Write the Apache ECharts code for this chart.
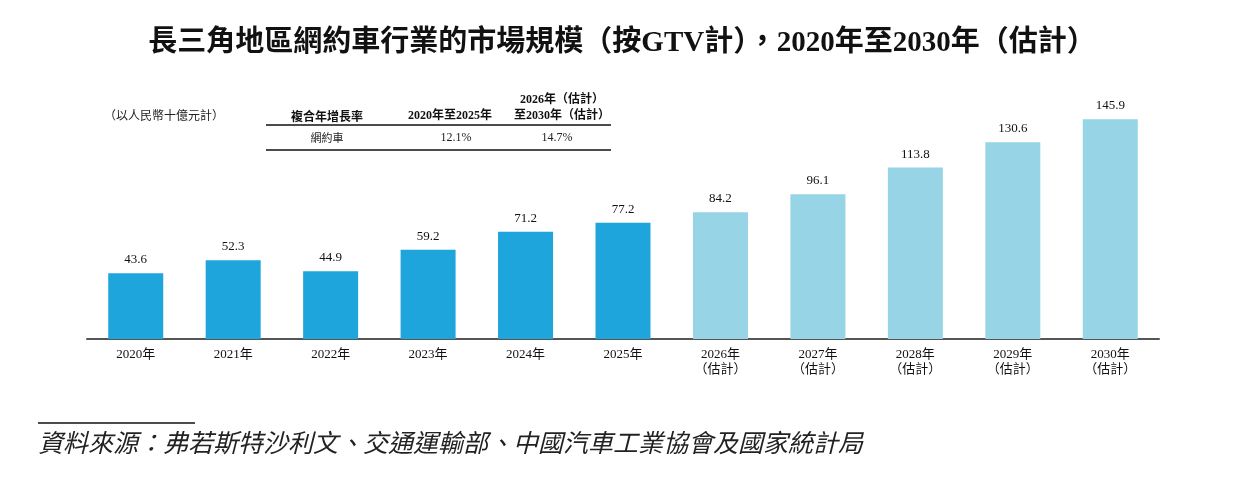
<!DOCTYPE html>
<html>
<head>
<meta charset="utf-8">
<script src="https://cdn.jsdelivr.net/npm/echarts@6/dist/echarts.min.js"></script>
<style>
  html, body { margin: 0; padding: 0; background: #fff; }
  #main { width: 1244px; height: 499px; }
</style>
</head>
<body>
<div id="main"></div>
<script>
var years = ['2020年', '2021年', '2022年', '2023年', '2024年', '2025年',
    '2026年\n（估計）', '2027年\n（估計）', '2028年\n（估計）', '2029年\n（估計）', '2030年\n（估計）'];
var gtv = [43.6, 52.3, 44.9, 59.2, 71.2, 77.2, 84.2, 96.1, 113.8, 130.6, 145.9];
var forecastFrom = 6;
var cagrHead = ['複合年增長率', '2020年至2025年', '2026年（估計）\n至2030年（估計）'];
var cagrRow = ['網約車', '12.1%', '14.7%'];

var darkBlue = '#1ea5dc';
var lightBlue = '#96d4e6';
var serif = '"Liberation Serif", "Noto Sans CJK TC", serif';

var chart = echarts.init(document.getElementById('main'));

chart.setOption({
    animation: false,
    title: {
        text: '長三角地區網約車行業的市場規模（按GTV計），2020年至2030年（估計）',
        left: 'center',
        top: 24,
        textStyle: {
            fontFamily: '"Liberation Serif", "Noto Sans CJK TC"',
            fontSize: 29,
            fontWeight: 'bold',
            color: '#111'
        }
    },
    grid: {
        left: 87,
        right: 85,
        top: 98,
        bottom: 160
    },
    xAxis: {
        type: 'category',
        data: years,
        axisLine: { lineStyle: { color: '#555', width: 2 } },
        axisTick: { show: false },
        axisLabel: {
            color: '#111',
            fontFamily: serif,
            fontSize: 13,
            lineHeight: 15,
            margin: 8,
            interval: 0
        }
    },
    yAxis: {
        type: 'value',
        min: 0,
        max: 160,
        show: false,
        splitLine: { show: false }
    },
    series: [{
        type: 'bar',
        barWidth: 55,
        data: gtv.map(function (v, i) {
            return {
                value: v,
                itemStyle: { color: i >= forecastFrom ? lightBlue : darkBlue }
            };
        }),
        label: {
            show: true,
            position: 'top',
            distance: 7,
            color: '#111',
            fontFamily: serif,
            fontSize: 13,
            formatter: function (p) { return p.value.toFixed(1); }
        }
    }],
    graphic: [
        {
            type: 'text', left: 104, top: 109,
            style: { text: '（以人民幣十億元計）', fill: '#222', font: '12px "Noto Sans CJK TC"' }
        },
        {
            type: 'text', x: 327, y: 116,
            style: { text: cagrHead[0], fill: '#111', font: 'bold 12px "Noto Sans CJK TC"', align: 'center', verticalAlign: 'middle' }
        },
        {
            type: 'text', x: 450, y: 116,
            style: { text: cagrHead[1], fill: '#111', font: 'bold 12px "Liberation Serif", "Noto Sans CJK TC"', align: 'center', verticalAlign: 'middle' }
        },
        {
            type: 'text', x: 562, y: 108,
            style: { text: cagrHead[2], fill: '#111', font: 'bold 12px "Liberation Serif", "Noto Sans CJK TC"', align: 'center', verticalAlign: 'middle', lineHeight: 16 }
        },
        {
            type: 'line', shape: { x1: 266, y1: 125, x2: 611, y2: 125 },
            style: { stroke: '#111', lineWidth: 1.5 }
        },
        {
            type: 'text', x: 327, y: 138,
            style: { text: cagrRow[0], fill: '#222', font: '11px "Noto Sans CJK TC"', align: 'center', verticalAlign: 'middle' }
        },
        {
            type: 'text', x: 456, y: 138,
            style: { text: cagrRow[1], fill: '#222', font: '12px "Liberation Serif"', align: 'center', verticalAlign: 'middle' }
        },
        {
            type: 'text', x: 557, y: 138,
            style: { text: cagrRow[2], fill: '#222', font: '12px "Liberation Serif"', align: 'center', verticalAlign: 'middle' }
        },
        {
            type: 'line', shape: { x1: 266, y1: 150, x2: 611, y2: 150 },
            style: { stroke: '#111', lineWidth: 1.5 }
        },
        {
            type: 'line', shape: { x1: 38, y1: 423, x2: 195, y2: 423 },
            style: { stroke: '#111', lineWidth: 1.5 }
        },
        {
            type: 'text', left: 38, top: 430,
            style: {
                text: '資料來源：弗若斯特沙利文、交通運輸部、中國汽車工業協會及國家統計局',
                fill: '#222',
                font: 'italic 25px "Noto Sans CJK TC"'
            }
        }
    ]
});
</script>
</body>
</html>
